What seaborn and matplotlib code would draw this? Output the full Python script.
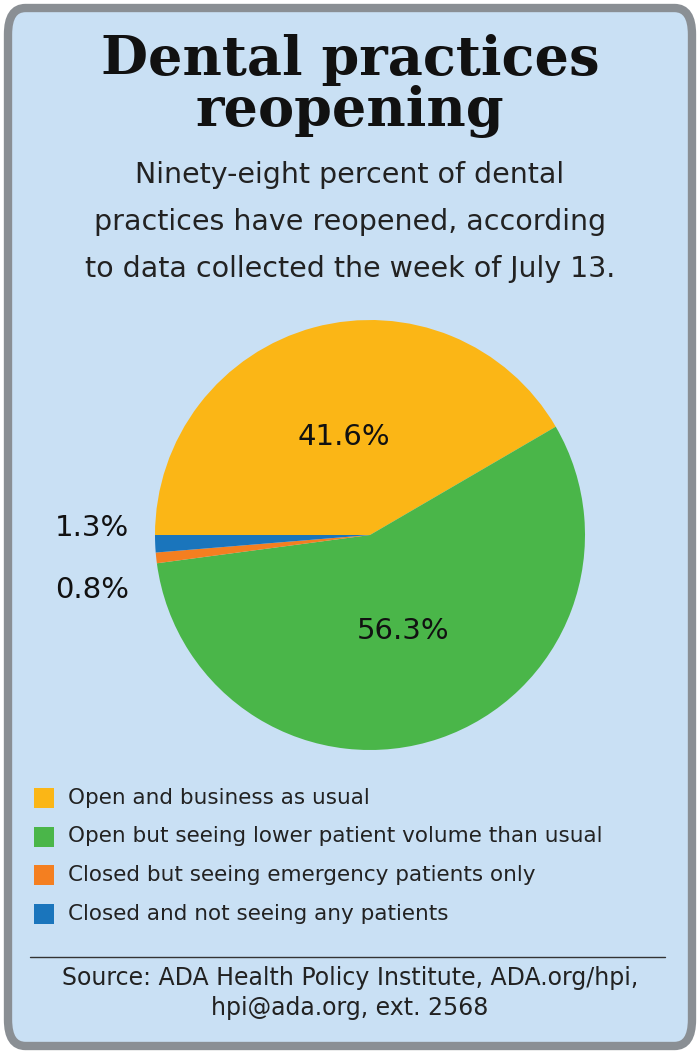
import numpy as np
import matplotlib
matplotlib.use("Agg")
import matplotlib.pyplot as plt
import seaborn as sns
from matplotlib.patches import FancyBboxPatch

categories = ["Open and business as usual",
              "Open but seeing lower patient volume than usual",
              "Closed but seeing emergency patients only",
              "Closed and not seeing any patients"]
shares = [41.6, 56.3, 0.8, 1.3]
labels = ["41.6%", "56.3%", "0.8%", "1.3%"]
colors = ["#fbb616", "#4ab649", "#f47f20", "#1a75bc"]

sns.set_theme(style="white")
plt.rcParams["font.family"] = "DejaVu Sans"

fig = plt.figure(figsize=(7, 10.54), dpi=100)
fig.patch.set_facecolor("white")
W, H = 700, 1054

def fx(x): return x / W
def fy(y): return 1 - y / H

box = FancyBboxPatch((fx(8), fy(1046)), fx(684), 1038 / H,
                     boxstyle="round,pad=0,rounding_size=0.025",
                     transform=fig.transFigure, facecolor="#c9e0f4",
                     edgecolor="#8a8f94", linewidth=6, zorder=-5)
fig.patches.append(box)

fig.text(0.5, fy(60), "Dental practices", ha="center", va="center",
         fontsize=39, fontweight="bold", family="DejaVu Serif", color="#111")
fig.text(0.5, fy(112), "reopening", ha="center", va="center",
         fontsize=39, fontweight="bold", family="DejaVu Serif", color="#111")
for i, line in enumerate(["Ninety-eight percent of dental",
                          "practices have reopened, according",
                          "to data collected the week of July 13."]):
    fig.text(0.5, fy(175 + 47 * i), line, ha="center", va="center",
             fontsize=20.5, color="#222")

# pie axes: center (370,535), radius 215
r = 215
ax = fig.add_axes([fx(370 - r), fy(535 + r), 2 * r / W, 2 * r / H], zorder=3)
ax.set_facecolor("none")
wedges, _ = ax.pie(shares, colors=colors, startangle=180, counterclock=False,
                   wedgeprops=dict(linewidth=0), radius=1)
ax.set_xlim(-1, 1); ax.set_ylim(-1, 1)
ax.set_aspect("equal")
ax.axis("off")

for w, lab, s in zip(wedges, labels, shares):
    mid = np.deg2rad((w.theta1 + w.theta2) / 2)
    if s > 10:
        d = 0.47
        x, y = d * np.cos(mid), d * np.sin(mid)
        ax.text(x, y, lab, ha="center", va="center", fontsize=21, color="#111")
for lab, yy in [(labels[3], 528), (labels[2], 590)]:
    fig.text(fx(92), fy(yy), lab, ha="center", va="center", fontsize=21, color="#111")

for i, (c, name) in enumerate(zip(colors, categories)):
    y = 798 + 38.5 * i
    fig.patches.append(plt.Rectangle((fx(34), fy(y + 10)), 20 / W, 20 / H,
                                     transform=fig.transFigure, facecolor=c, edgecolor="none"))
    fig.text(fx(68), fy(y), name, ha="left", va="center", fontsize=15.5, color="#222")

fig.add_artist(plt.Line2D([fx(30), fx(665)], [fy(957), fy(957)],
                          transform=fig.transFigure, color="#333", linewidth=1))
fig.text(0.5, fy(978), "Source: ADA Health Policy Institute, ADA.org/hpi,",
         ha="center", va="center", fontsize=17, color="#222")
fig.text(0.5, fy(1008), "hpi@ada.org, ext. 2568",
         ha="center", va="center", fontsize=17, color="#222")

fig.savefig("out.png", dpi=100, facecolor="white")
